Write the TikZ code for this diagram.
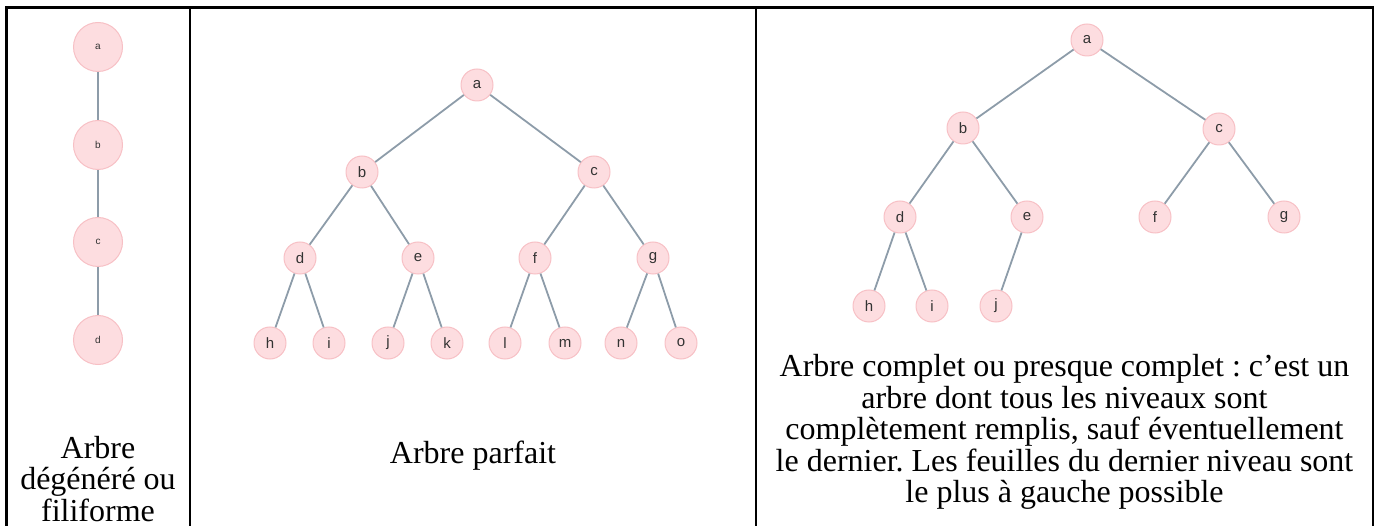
\documentclass[tikz,border=0pt]{standalone}
\usepackage{fontspec}
\setmainfont{Liberation Serif}
\newfontfamily\labfont{Liberation Sans}
\frenchspacing
\definecolor{nodefill}{HTML}{FDDDE0}
\definecolor{nodeline}{HTML}{F7C0C5}
\definecolor{edgecol}{HTML}{8D9CA9}
\tikzset{
  vert/.style={circle, fill=nodefill, draw=nodeline, line width=1pt, minimum size=32pt, inner sep=0pt, font=\labfont\fontsize{15}{15}\selectfont, text=black!80},
  bigvert/.style={vert, minimum size=49pt, font=\labfont\fontsize{10}{10}\selectfont},
  edge/.style={draw=edgecol, line width=1.8pt},
  rule/.style={line width=2.4pt, black},
  caption/.style={align=center, font=\fontsize{32}{31.5}\selectfont, inner sep=0pt}
}
\begin{document}
\begin{tikzpicture}[x=1pt, y=-1pt]
\useasboundingbox (0,0) rectangle (1378,526);
% table frame
\draw[rule] (6.5,7.5) -- (1373,7.5);
\draw[rule] (6.5,6.3) -- (6.5,526);
\draw[rule] (190,7.5) -- (190,526);
\draw[rule] (756,7.5) -- (756,526);
\draw[rule] (1373,6.3) -- (1373,526);

% degenerate tree
\node[bigvert] (la) at (98,47) {a};
\node[bigvert] (lb) at (98,145) {b};
\node[bigvert] (lc) at (98,242) {c};
\node[bigvert] (ld) at (98,340) {d};
\draw[edge] (la) -- (lb);
\draw[edge] (lb) -- (lc);
\draw[edge] (lc) -- (ld);
\node[caption] (lcap) at (98,479) {Arbre\\dégénéré ou\\filiforme};

% perfect tree
\node[vert] (ma) at (477,85) {a};
\node[vert] (mb) at (362,172) {b};
\node[vert] (mc) at (594,172) {c};
\node[vert] (md) at (300,258) {d};
\node[vert] (me) at (418,258) {e};
\node[vert] (mf) at (535,258) {f};
\node[vert] (mg) at (653,258) {g};
\node[vert] (mh) at (270,343) {h};
\node[vert] (mi) at (329,343) {i};
\node[vert] (mj) at (388,343) {j};
\node[vert] (mk) at (447,343) {k};
\node[vert] (ml) at (505,343) {l};
\node[vert] (mm) at (565,343) {m};
\node[vert] (mn) at (621,343) {n};
\node[vert] (mo) at (681,343) {o};
\foreach \p/\c in {ma/mb, ma/mc, mb/md, mb/me, mc/mf, mc/mg, md/mh, md/mi, me/mj, me/mk, mf/ml, mf/mm, mg/mn, mg/mo}
  \draw[edge] (\p) -- (\c);
\node[caption] (mcap) at (473,456) {Arbre parfait};

% complete tree
\node[vert] (ra) at (1087,40) {a};
\node[vert] (rb) at (963,128) {b};
\node[vert] (rc) at (1219,129) {c};
\node[vert] (rd) at (900,217) {d};
\node[vert] (re) at (1027,217) {e};
\node[vert] (rf) at (1155,217) {f};
\node[vert] (rg) at (1284,217) {g};
\node[vert] (rh) at (869,306) {h};
\node[vert] (ri) at (932,306) {i};
\node[vert] (rj) at (996,306) {j};
\foreach \p/\c in {ra/rb, ra/rc, rb/rd, rb/re, rc/rf, rc/rg, rd/rh, rd/ri, re/rj}
  \draw[edge] (\p) -- (\c);
\node[caption] (rcap) at (1064.5,432) {Arbre complet ou presque complet : c’est un\\arbre dont tous les niveaux sont\\complètement remplis, sauf éventuellement\\le dernier. Les feuilles du dernier niveau sont\\le plus à gauche possible};
\end{tikzpicture}
\end{document}
